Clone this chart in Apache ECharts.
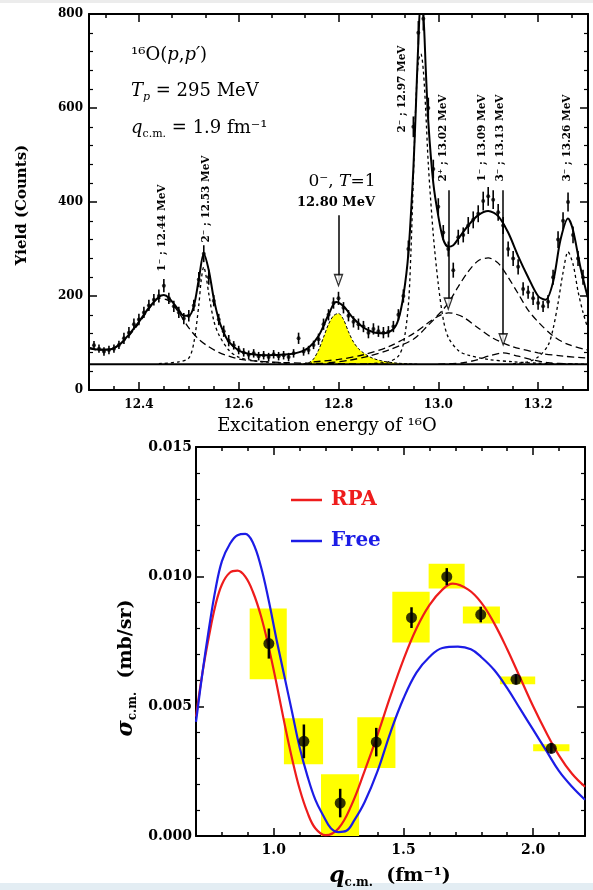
<!DOCTYPE html>
<html><head><meta charset="utf-8">
<script src="https://cdn.jsdelivr.net/npm/echarts@6/dist/echarts.min.js"></script>
<style>html,body{margin:0;padding:0;background:#fff}#c{width:593px;height:890px}</style>
</head><body><div id="c"></div>
<script>
// ---------- TOP PANEL DATA (16O(p,p') spectrum) ----------
const spE = [12.31,12.32,12.33,12.34,12.35,12.36,12.37,12.38,12.39,12.40,
 12.41,12.42,12.43,12.44,12.45,12.46,12.47,12.48,12.49,12.50,
 12.51,12.52,12.53,12.54,12.55,12.56,12.57,12.58,12.59,12.60,
 12.61,12.62,12.63,12.64,12.65,12.66,12.67,12.68,12.69,12.70,
 12.71,12.72,12.73,12.74,12.75,12.76,12.77,12.78,12.79,12.80,
 12.81,12.82,12.83,12.84,12.85,12.86,12.87,12.88,12.89,12.90,
 12.91,12.92,12.93,12.94,12.95,12.96,12.97,12.98,12.99,13.00,
 13.01,13.02,13.03,13.04,13.05,13.06,13.07,13.08,13.09,13.10,
 13.11,13.12,13.13,13.14,13.15,13.16,13.17,13.18,13.19,13.20,
 13.21,13.22,13.23,13.24,13.25,13.26,13.27,13.28,13.29];
const spC = [95,88,82,85,88,96,110,122,140,150,
 165,180,192,200,222,195,178,165,152,158,
 180,235,290,240,190,150,125,105,95,85,
 80,75,78,72,74,70,76,72,74,70,
 78,110,82,85,96,108,140,160,185,195,
 175,158,145,140,135,122,130,125,122,124,
 135,160,200,300,560,760,790,600,470,390,
 335,300,255,325,330,350,362,375,402,412,
 405,378,350,300,280,262,215,208,195,185,
 178,188,240,320,360,400,330,280,240];
const spErr = [9,9,9,9,9,9,12,12,12,12,
 12,12,12,14,14,12,12,12,12,12,
 12,16,18,16,12,12,12,12,9,9,
 9,9,9,9,9,9,9,9,9,9,
 9,12,9,9,9,12,12,12,12,14,
 12,12,12,12,12,12,12,12,12,12,
 12,12,14,18,22,25,25,22,20,18,
 16,16,16,16,16,18,18,18,20,20,
 20,18,18,16,16,16,14,14,14,14,
 12,14,16,18,18,20,18,16,16];

// total fit (solid)
const totE = [12.30,12.32,12.34,12.36,12.38,12.40,12.42,12.44,12.45,12.46,12.48,12.49,12.50,12.51,12.52,12.53,12.54,12.55,12.56,12.57,12.58,12.60,12.62,12.65,12.70,12.72,12.74,12.76,12.78,12.795,12.81,12.83,12.85,12.87,12.89,12.91,12.92,12.93,12.94,12.95,12.955,12.96,12.965,12.97,12.975,12.98,12.99,13.00,13.01,13.02,13.03,13.04,13.06,13.08,13.10,13.12,13.14,13.16,13.18,13.20,13.215,13.23,13.245,13.26,13.27,13.285,13.30];
const totC = [90,86,86,96,118,145,175,198,202,196,170,158,158,178,235,290,255,195,150,122,103,84,77,74,76,80,90,115,160,187,178,152,133,123,121,130,150,200,290,470,600,740,830,800,680,570,440,370,320,305,308,322,350,372,381,370,335,285,240,200,192,230,320,365,340,260,195];

// components
const c1E = [12.30,12.32,12.34,12.36,12.38,12.40,12.42,12.44,12.46,12.48,12.50,12.52,12.54,12.56,12.58,12.60,12.64,12.70,12.80,12.90];
const c1C = [88,85,86,95,115,142,172,195,190,165,132,108,92,80,72,66,61,58,56,55];
const c2E = [12.44,12.48,12.50,12.51,12.52,12.525,12.53,12.535,12.54,12.55,12.56,12.58,12.60,12.64,12.70];
const c2C = [56,60,68,100,180,235,262,240,205,148,118,85,70,61,57];
const yelE = [12.72,12.74,12.75,12.76,12.77,12.78,12.79,12.80,12.81,12.82,12.83,12.84,12.85,12.86,12.87,12.89,12.92,12.96];
const yelC = [55,58,66,85,112,140,158,163,150,124,102,88,79,72,67,61,57,55];
const c3E = [12.86,12.90,12.92,12.93,12.94,12.945,12.95,12.955,12.96,12.965,12.97,12.975,12.98,12.99,13.00,13.01,13.02,13.04,13.06,13.10,13.15,13.20,13.30];
const c3C = [56,60,72,98,180,290,450,610,700,715,680,590,480,330,225,150,112,84,74,65,60,57,55];
const c4E = [12.75,12.80,12.85,12.90,12.95,12.98,13.00,13.02,13.03,13.05,13.08,13.11,13.15,13.20,13.25,13.30];
const c4C = [60,65,75,92,120,143,157,164,163,155,132,110,92,79,72,68];
const c5E = [12.78,12.82,12.86,12.90,12.95,12.98,13.00,13.02,13.04,13.06,13.08,13.10,13.12,13.14,13.16,13.18,13.20,13.23,13.26,13.30];
const c5C = [58,63,72,85,108,138,160,185,220,252,275,281,270,240,205,170,145,115,97,85];
const c6E = [13.00,13.05,13.08,13.10,13.13,13.16,13.19,13.22,13.27];
const c6C = [55,58,65,72,79,72,64,58,55];
const c7E = [13.15,13.18,13.20,13.22,13.23,13.24,13.25,13.26,13.27,13.28,13.29,13.30];
const c7C = [56,60,70,95,130,185,250,294,268,210,165,130];
const baseE = [12.30,13.30];
const baseC = [55,55];
// arrows
const arrE = [12.80,13.02,13.13];
const arrFrom = [372,425,425];
const arrTo = [222,172,96];
// ticks top panel
const eMajor = [12.4,12.6,12.8,13.0,13.2];
const eMinorBottom = [12.35,12.45,12.5,12.55,12.65,12.7,12.75,12.85,12.9,12.95,13.05,13.1,13.15,13.25];
const eMinorTop = [12.3333,12.4667,12.5333,12.6667,12.7333,12.8667,12.9333,13.0667,13.1333,13.2667];

// ---------- BOTTOM PANEL DATA ----------
const rpaQ = [0.70,0.725,0.75,0.775,0.80,0.83,0.86,0.89,0.92,0.95,0.98,1.01,1.04,1.07,1.10,1.13,1.16,1.20,1.25,1.30,1.35,1.40,1.45,1.50,1.55,1.60,1.65,1.69,1.75,1.80,1.85,1.90,1.95,2.00,2.05,2.10,2.15,2.20];
const rpaS = [0.0046,0.0063,0.0077,0.0089,0.0097,0.01015,0.01023,0.0100,0.0094,0.0085,0.0073,0.0059,0.0044,0.0030,0.0018,0.0009,0.0003,0.00003,0.0003,0.0012,0.0025,0.0039,0.0054,0.0068,0.0080,0.0089,0.0095,0.00973,0.0095,0.0090,0.0082,0.0072,0.0061,0.0050,0.0040,0.0031,0.0024,0.0019];
const freeQ = [0.70,0.725,0.75,0.775,0.80,0.83,0.86,0.89,0.92,0.95,0.98,1.01,1.04,1.07,1.10,1.13,1.16,1.19,1.22,1.25,1.28,1.31,1.35,1.40,1.45,1.50,1.55,1.60,1.65,1.71,1.76,1.80,1.85,1.90,1.95,2.00,2.05,2.10,2.15,2.20];
const freeS = [0.0044,0.0063,0.0080,0.0095,0.0106,0.01125,0.0116,0.01165,0.0113,0.0104,0.0091,0.0076,0.0062,0.0048,0.0034,0.0023,0.0014,0.0008,0.0003,0.00015,0.0002,0.0006,0.0013,0.0025,0.0040,0.0053,0.0063,0.0069,0.00725,0.0073,0.0072,0.0069,0.0064,0.0057,0.0049,0.0041,0.0033,0.0025,0.0019,0.0014];
const qPts = [0.981,1.116,1.256,1.395,1.531,1.667,1.798,1.934,2.070];
const sPts = [0.00742,0.00365,0.00127,0.00362,0.00842,0.0100,0.00854,0.00604,0.00338];
const sErr = [0.00058,0.00065,0.00055,0.00055,0.0004,0.00033,0.0003,0.0002,0.0002];
const boxQ1 = [0.907,1.039,1.182,1.322,1.457,1.597,1.729,1.872,2.000];
const boxQ2 = [1.050,1.190,1.329,1.469,1.601,1.736,1.872,2.008,2.140];
const boxS1 = [0.00604,0.00277,0.0,0.00262,0.00746,0.00954,0.00819,0.00585,0.00327];
const boxS2 = [0.00877,0.00454,0.00238,0.00458,0.00942,0.0105,0.00885,0.00615,0.00354];
const qMajor = [1.0,1.5,2.0];
const qMinor = [0.8,0.9,1.1,1.2,1.3,1.4,1.6,1.7,1.8,1.9,2.1];

// ---------- build ----------
const SERIF = '"DejaVu Serif","Liberation Serif",serif';
const zip = (a,b)=>a.map((v,i)=>[v,b[i]]);
const chart = echarts.init(document.getElementById('c'));

function xAx(grid,pos,min,max,ticks,len,showLine,labels,fmt,fs,margin){
  return {type:'value',gridIndex:grid,position:pos,min:min,max:max,
    axisLine:{show:showLine,onZero:false,lineStyle:{color:'#000',width:2}},
    axisTick:{show:true,inside:true,length:len,customValues:ticks,lineStyle:{color:'#000',width:1.5}},
    axisLabel:{show:!!labels,customValues:labels?ticks:undefined,formatter:fmt,margin:margin,
      color:'#000',fontFamily:SERIF,fontWeight:'bold',fontSize:fs},
    splitLine:{show:false}};
}
function yAx(grid,pos,max,interval,labels,fmt,fs,margin){
  return {type:'value',gridIndex:grid,position:pos,min:0,max:max,interval:interval,
    axisLine:{show:true,onZero:false,lineStyle:{color:'#000',width:2}},
    axisTick:{show:true,inside:true,length:8,lineStyle:{color:'#000',width:1.5}},
    minorTick:{show:true,splitNumber:5,length:4,lineStyle:{color:'#000',width:1.2}},
    axisLabel:{show:labels,formatter:fmt,margin:margin,color:'#000',fontFamily:SERIF,fontWeight:'bold',fontSize:fs},
    splitLine:{show:false},minorSplitLine:{show:false}};
}
const f1 = v=>v.toFixed(1);
const xAxes = [
  xAx(0,'bottom',12.3,13.3,eMajor,8,true,true,f1,12,9),
  xAx(0,'bottom',12.3,13.3,eMinorBottom,4,false,false),
  xAx(0,'top',12.3,13.3,eMajor,8,true,false),
  xAx(0,'top',12.3,13.3,eMinorTop,4,false,false),
  xAx(1,'bottom',0.7,2.2,qMajor,8,true,true,f1,14,7),
  xAx(1,'bottom',0.7,2.2,qMinor,4,false,false),
  xAx(1,'top',0.7,2.2,qMajor,8,true,false),
  xAx(1,'top',0.7,2.2,qMinor,4,false,false)
];
const yAxes = [
  yAx(0,'left',800,200,true,v=>String(v),12,6),
  yAx(0,'right',800,200,false),
  yAx(1,'left',0.015,0.005,true,v=>v.toFixed(3),14,4),
  yAx(1,'right',0.015,0.005,false)
];

function dashLine(E,C,dash,w){
  return {type:'line',xAxisIndex:0,yAxisIndex:0,data:zip(E,C),symbol:'none',smooth:0.3,
    lineStyle:{color:'#000',width:w||1.3,type:dash},z:3,silent:true};
}
const series = [
  {type:'line',xAxisIndex:0,yAxisIndex:0,data:zip(yelE,yelC),symbol:'none',smooth:0.3,
    lineStyle:{color:'#000',width:1,type:[3,2]},areaStyle:{color:'#ffff00',opacity:1,origin:55},z:2},
  {type:'line',xAxisIndex:0,yAxisIndex:0,data:zip(baseE,baseC),symbol:'none',
    lineStyle:{color:'#000',width:2},z:4,
    markLine:{silent:true,symbol:['none','none'],label:{show:false},
      lineStyle:{color:'#000',width:1.5,type:'solid'},
      data:arrE.map((e,i)=>[{coord:[e,arrFrom[i]]},{coord:[e,arrTo[i]+8]}])}},
  {type:'scatter',xAxisIndex:0,yAxisIndex:0,data:zip(arrE,arrTo),symbol:'triangle',symbolRotate:180,
    symbolSize:[8,11],symbolOffset:[0,'-50%'],itemStyle:{color:'#fff',borderColor:'#000',borderWidth:1.4},z:8,silent:true},
  dashLine(c1E,c1C,[7,4]),
  dashLine(c2E,c2C,[3,3]),
  dashLine(c3E,c3C,[3,3]),
  dashLine(c4E,c4C,[7,4]),
  dashLine(c5E,c5C,[7,4]),
  dashLine(c6E,c6C,[7,4]),
  dashLine(c7E,c7C,[3,3]),
  {type:'line',xAxisIndex:0,yAxisIndex:0,data:zip(totE,totC),symbol:'none',smooth:0.3,
    lineStyle:{color:'#000',width:2},z:5},
  {type:'custom',xAxisIndex:0,yAxisIndex:0,clip:true,z:6,
    data:spE.map((e,i)=>[e,spC[i]-spErr[i],spC[i]+spErr[i]]),encode:{x:0,y:[1,2]},
    renderItem:(p,api)=>{const a=api.coord([api.value(0),api.value(1)]),b=api.coord([api.value(0),api.value(2)]);
      return {type:'line',shape:{x1:a[0],y1:a[1],x2:b[0],y2:b[1]},style:{stroke:'#000',lineWidth:1.6}};}},
  {type:'scatter',xAxisIndex:0,yAxisIndex:0,data:zip(spE,spC),symbol:'circle',symbolSize:4,
    itemStyle:{color:'#000'},z:7,clip:true},
  // bottom panel
  {type:'custom',xAxisIndex:4,yAxisIndex:2,z:1,
    data:boxQ1.map((q,i)=>[q,boxQ2[i],boxS1[i],boxS2[i]]),encode:{x:[0,1],y:[2,3]},
    renderItem:(p,api)=>{const a=api.coord([api.value(0),api.value(3)]),b=api.coord([api.value(1),api.value(2)]);
      return {type:'rect',shape:{x:a[0],y:a[1],width:b[0]-a[0],height:b[1]-a[1]},style:{fill:'#ffff00'}};}},
  {name:'RPA',type:'line',xAxisIndex:4,yAxisIndex:2,data:zip(rpaQ,rpaS),symbol:'none',smooth:0.4,
    lineStyle:{color:'#ee1c1c',width:2.2},itemStyle:{color:'#ee1c1c'},z:3},
  {name:'Free',type:'line',xAxisIndex:4,yAxisIndex:2,data:zip(freeQ,freeS),symbol:'none',smooth:0.4,
    lineStyle:{color:'#1c1ce6',width:2.2},itemStyle:{color:'#1c1ce6'},z:3},
  {type:'custom',xAxisIndex:4,yAxisIndex:2,z:5,
    data:qPts.map((q,i)=>[q,sPts[i]-sErr[i],sPts[i]+sErr[i]]),encode:{x:0,y:[1,2]},
    renderItem:(p,api)=>{const a=api.coord([api.value(0),api.value(1)]),b=api.coord([api.value(0),api.value(2)]);
      return {type:'line',shape:{x1:a[0],y1:a[1],x2:b[0],y2:b[1]},style:{stroke:'#000',lineWidth:2.5}};}},
  {type:'scatter',xAxisIndex:4,yAxisIndex:2,data:zip(qPts,sPts),symbol:'circle',symbolSize:11,
    itemStyle:{color:'#000'},z:6}
];

const R = (o)=>Object.assign({fontFamily:SERIF,fill:'#000'},o);
function txt(x,y,text,rich,font,opts){
  return Object.assign({type:'text',x:x,y:y,z:100,silent:true,
    style:{text:text,font:font,fill:'#000',align:(opts&&opts.align)||'left',verticalAlign:'middle',rich:rich||{}}},
    opts&&opts.rot?{rotation:opts.rot}:{});
}
const baseRich = {
  n:R({fontSize:18,lineHeight:24}),
  i:R({fontSize:18,fontStyle:'italic',lineHeight:24}),
  sub:R({fontSize:11,fontStyle:'italic',verticalAlign:'bottom',lineHeight:24,padding:[8,0,0,0]}),
  subn:R({fontSize:11,verticalAlign:'bottom',lineHeight:24,padding:[8,0,0,0]})
};
const lab = (x,y,t)=>txt(x,y,t,null,'bold 10.5px '+SERIF,{align:'center',rot:Math.PI/2});
const graphic = [
  {type:'rect',left:0,top:0,shape:{width:593,height:3},style:{fill:'#ececec'},silent:true},
  {type:'rect',left:0,top:883,shape:{width:593,height:7},style:{fill:'#e3edf3'},silent:true},
  txt(131,55,'{n|¹⁶O(}{i|p}{n|,}{i|p′}{n|)}',baseRich,'18px '+SERIF),
  txt(131,91,'{i|T}{sub|p}{n| = 295 MeV}',baseRich,'18px '+SERIF),
  txt(131,128,'{i|q}{subn|c.m.}{n| = 1.9 fm⁻¹}',baseRich,'18px '+SERIF),
  txt(342,182,'{n|0⁻, }{i|T}{n|=1}',{n:R({fontSize:17}),i:R({fontSize:17,fontStyle:'italic'})},'17px '+SERIF,{align:'center'}),
  txt(336,203,'12.80 MeV',null,'bold 13px '+SERIF,{align:'center'}),
  lab(162,228,'1⁻ ; 12.44 MeV'),
  lab(206,199,'2⁻ ; 12.53 MeV'),
  lab(402,89,'2⁻ ; 12.97 MeV'),
  lab(443,138,'2⁺ ; 13.02 MeV'),
  lab(482,138,'1⁻ ; 13.09 MeV'),
  lab(500,138,'3⁻ ; 13.13 MeV'),
  lab(567,138,'3⁻ ; 13.26 MeV'),
  txt(22,205,'Yield (Counts)',null,'bold 15px '+SERIF,{align:'center',rot:Math.PI/2}),
  txt(327,426,'Excitation energy of ¹⁶O',null,'18px '+SERIF,{align:'center'}),
  txt(126,668,'{s|σ}{sb|c.m.}{n|  (mb/sr)}',{
     s:R({fontSize:22,fontStyle:'italic',fontWeight:'bold',lineHeight:26}),
     sb:R({fontSize:12,fontWeight:'bold',verticalAlign:'bottom',lineHeight:26,padding:[9,0,0,0]}),
     n:R({fontSize:19,fontWeight:'bold',lineHeight:26})},'bold 19px '+SERIF,{align:'center',rot:Math.PI/2}),
  txt(390,876,'{q|q}{sb|c.m.}{n|  (fm⁻¹)}',{
     q:R({fontSize:22,fontStyle:'italic',fontWeight:'bold',lineHeight:26}),
     sb:R({fontSize:12,fontWeight:'bold',verticalAlign:'bottom',lineHeight:26,padding:[9,0,0,0]}),
     n:R({fontSize:19,fontWeight:'bold',lineHeight:26})},'bold 19px '+SERIF,{align:'center'})
];

chart.setOption({
  animation:false,
  backgroundColor:'#fff',
  grid:[{left:89,top:14,width:499,height:376,show:false},
        {left:196,top:447,width:389,height:389,show:false}],
  xAxis:xAxes, yAxis:yAxes,
  legend:{left:291,top:488,padding:0,orient:'vertical',icon:'rect',itemWidth:31,itemHeight:2.5,itemGap:17,
    data:[{name:'RPA',textStyle:{color:'#ee1c1c'}},{name:'Free',textStyle:{color:'#1c1ce6'}}],
    textStyle:{fontFamily:SERIF,fontWeight:'bold',fontSize:20,lineHeight:24,padding:[0,0,0,4]}},
  series:series,
  graphic:graphic
});
</script></body></html>
